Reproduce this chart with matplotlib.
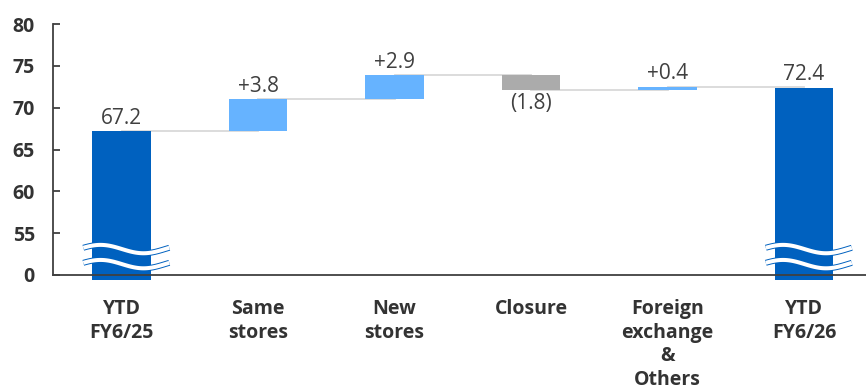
import numpy as np
import matplotlib
matplotlib.use("Agg")
import matplotlib.pyplot as plt

# sales bridge, YTD FY6/25 -> YTD FY6/26
categories = ["YTD\nFY6/25", "Same\nstores", "New\nstores", "Closure",
              "Foreign\nexchange\n&\nOthers", "YTD\nFY6/26"]
start_total = 67.2
changes = [3.8, 2.9, -1.8, 0.4]
end_total = 72.4
change_labels = ["+3.8", "+2.9", "(1.8)", "+0.4"]

ytick_vals = [50, 55, 60, 65, 70, 75, 80]
ytick_text = ["0", "55", "60", "65", "70", "75", "80"]

DARK = "#0061BF"
LIGHT = "#66B3FF"
GREY = "#ABABAB"
TXT = "#404040"

plt.rcParams["font.family"] = ["Open Sans", "DejaVu Sans"]

fig = plt.figure(figsize=(8.66, 3.9), dpi=100)
ax = fig.add_axes([0.0612, 0.2833, 0.9388, 0.655])

floor = 49.46
w = 0.43
x = np.arange(len(categories))

# running totals for the floating bars
tops = np.concatenate([[start_total], start_total + np.cumsum(changes)])

# connector lines
for i in range(len(tops)):
    ax.plot([x[i], x[i + 1]], [tops[i], tops[i]], color="#D9D9D9", lw=1.3, zorder=1)

# totals
for xi, v in [(x[0], start_total), (x[-1], end_total)]:
    ax.bar(xi, v - floor, bottom=floor, width=w, color=DARK, zorder=2)
    ax.text(xi, v + 0.3, f"{v:.1f}", ha="center", va="bottom", fontsize=15, color=TXT)

# changes
for i, (d, lab) in enumerate(zip(changes, change_labels)):
    xi = x[i + 1]
    lo = min(tops[i], tops[i + 1])
    col = LIGHT if d > 0 else GREY
    ax.bar(xi, abs(d), bottom=lo, width=w, color=col, zorder=2)
    if d > 0:
        ax.text(xi, tops[i + 1] + 0.3, lab, ha="center", va="bottom", fontsize=15, color=TXT)
    else:
        ax.text(xi, tops[i + 1] - 0.35, lab, ha="center", va="top", fontsize=15, color=TXT)

# axis break squiggles on the total bars
t = np.linspace(0, 1, 80)
wave = 0.5 * np.sin(2 * np.pi * (t + 0.05))
for xi in [x[0], x[-1]]:
    xs = xi - 0.28 + 0.63 * t
    for base in [53.1, 51.3]:
        ax.plot(xs, base + wave, color=DARK, lw=4.3, solid_capstyle="butt", zorder=3, clip_on=False)
        ax.plot(xs, base + wave, color="white", lw=2.9, solid_capstyle="butt", zorder=4, clip_on=False)

ax.set_xlim(-0.502, 5.454)
ax.set_ylim(floor, 80)
ax.spines["bottom"].set_position(("data", 50))
ax.spines["bottom"].set_zorder(5)
for s in ["top", "right"]:
    ax.spines[s].set_visible(False)
for s in ["left", "bottom"]:
    ax.spines[s].set_color(TXT)
    ax.spines[s].set_linewidth(1.3)
ax.spines["left"].set_bounds(50, 80)

ax.set_yticks(ytick_vals)
ax.set_yticklabels(ytick_text, fontsize=14, fontweight="bold", color="#333333")
ax.tick_params(axis="y", direction="in", length=5, width=1.3, color=TXT, pad=13)

ax.set_xticks(x)
ax.set_xticklabels(categories, fontsize=14, fontweight="bold", color="#333333", linespacing=1.26)
ax.tick_params(axis="x", length=0, pad=17)

fig.savefig("out.png", dpi=100)
